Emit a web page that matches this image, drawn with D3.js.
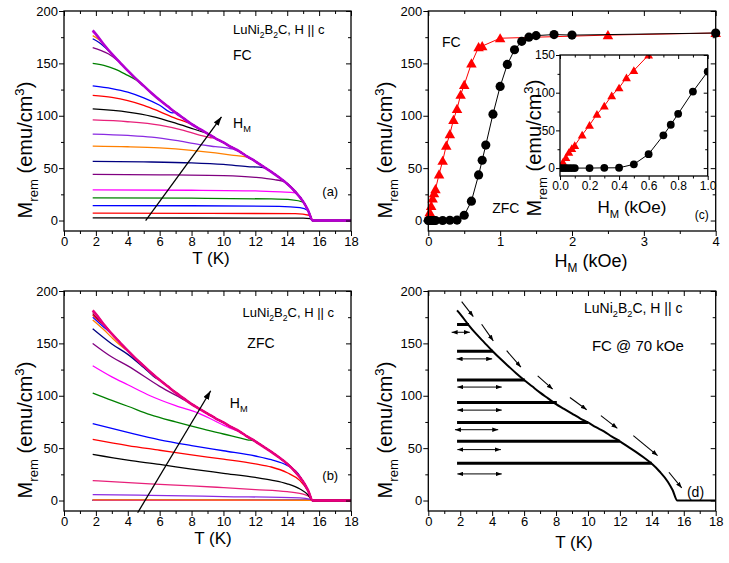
<!DOCTYPE html>
<html>
<head>
<meta charset="utf-8">
<script src="https://cdn.jsdelivr.net/npm/d3@7/dist/d3.min.js"></script>
<style>
  body { margin: 0; background: #fff; }
  svg text { font-family: "Liberation Sans", Arial, Helvetica, sans-serif; fill: #000; white-space: pre; }
</style>
</head>
<body>
<svg id="fig" width="729" height="563"></svg>
<script>
// LuNi2B2C remanent magnetization: (a) FC and (b) ZFC M_rem(T) families,
// (c) M_rem vs magnetizing field H_M at 1.8 K, (d) sketch of the FC protocol.

// ---- data ----
// Saturated remanence curve (top envelope), [T (K), M (emu/cm3)]
const TOP = [[1.8, 181.5], [2, 178], [2.5, 168], [3, 159], [3.5, 151], [4, 143], [4.5, 135.5],
  [5, 128.5], [5.5, 121.5], [6, 115], [6.5, 109], [7, 103], [7.5, 97.5], [8, 92], [8.5, 87.5],
  [9, 83], [9.5, 78.5], [10, 74.5], [10.5, 70], [11, 66], [11.5, 61], [12, 56.5], [12.5, 51.5],
  [13, 46.5], [13.5, 41], [14, 35], [14.5, 27.5], [15, 18], [15.3, 10], [15.6, 0], [16, 0], [18, 0]];

// (a) FC curves: own points until they join the envelope
const FC_CURVES = [
  [[1.8, 2.5], [8, 2.4], [15, 2.2], [15.45, 1.9]],
  [[1.8, 7], [8, 6.9], [14.5, 6.6], [15.45, 4.8]],
  [[1.8, 14.3], [8, 14.1], [13.5, 13.5], [14.8, 12.3], [15.3, 9.5]],
  [[1.8, 21.6], [8, 21.3], [13, 20.6], [14.3, 19.8], [15, 17.5]],
  [[1.8, 29.2], [8, 28.9], [12, 28.3], [13.6, 27.3], [14.5, 26.5]],
  [[1.8, 44], [6, 43.6], [10, 42.8], [12, 41.2], [13.2, 39], [13.7, 37.5]],
  [[1.8, 56.5], [5, 56], [8, 55], [10, 53.5], [11.5, 51.5], [12.5, 50.5]],
  [[1.8, 71], [4, 70.4], [6, 69.3], [8, 67], [9.5, 64.5], [10.5, 62.5], [11.5, 60.5]],
  [[1.8, 82.5], [4, 81.2], [5.5, 79.6], [7, 76.5], [8.5, 72.5], [9.5, 70.5], [10.5, 68.5]],
  [[1.8, 96], [4, 94.3], [6, 91], [7.5, 86], [8.5, 81.5], [9.2, 79]],
  [[1.8, 106.5], [4, 103.5], [5.5, 99.5], [7, 93], [8, 88], [8.7, 84.5]],
  [[1.8, 119.5], [3, 117.5], [4, 114.5], [5, 110], [6, 104], [7, 97.5], [7.6, 94.5]],
  [[1.8, 128.6], [3, 126], [4, 122.5], [5, 117], [6, 110], [6.8, 102.8]],
  [[1.8, 150], [2.5, 148], [3.2, 144.5], [4, 138.5], [4.5, 134.5]],
  [[1.8, 165], [2.3, 162.5], [2.8, 159], [3.3, 153.5]],
  [[1.8, 173.5], [2.2, 170], [2.6, 165]],
  [[1.8, 176.5], [2.2, 172.5], [2.5, 167.5]],
  [[1.8, 180], [2, 177.5]],
  [[1.8, 181.5]]
];
const FC_COLORS = ['#000000', '#ff0000', '#0000ff', '#008000', '#ff00ff', '#800080', '#000080',
  '#ff8000', '#8a2be2', '#e8207a', '#000000', '#ff0000', '#0000ff', '#008000', '#800080',
  '#0000c8', '#ff8000', '#ff00ff', '#b400d2'];

// (b) ZFC curves
const ZFC_CURVES = [
  [[1.8, 0.2], [15.5, 0.1]],
  [[1.8, 0.2], [15.5, 0.1]],
  [[1.8, 0.3], [15.5, 0.1]],
  [[1.8, 0.3], [15.5, 0.1]],
  [[1.8, 0.4], [15.5, 0.1]],
  [[1.8, 0.6], [10, 0.5], [15.5, 0.2]],
  [[1.8, 5.7], [5.4, 5], [10, 3.8], [14.8, 2.5], [15.45, 1.2]],
  [[1.8, 19], [5.4, 15.9], [8, 14], [10, 12.3], [12, 10.5], [14, 8.5], [15, 6], [15.45, 3]],
  [[1.8, 44], [4, 38.5], [6, 34.5], [8, 30], [10, 26], [12, 22], [13, 19.5], [14, 16], [14.8, 11], [15.3, 5.5]],
  [[1.8, 58.4], [4, 52.5], [6, 48], [8, 43.5], [10, 39.5], [12, 35], [13, 32], [14, 26.5], [14.8, 19], [15.3, 9]],
  [[1.8, 73.3], [4, 65], [6, 58], [8, 52.5], [10, 47.5], [12, 42.5], [13, 39], [14, 33.5], [14.7, 25.5], [15.2, 12]],
  [[1.8, 102.5], [3, 95.5], [4, 90], [5.4, 82], [7, 75], [8.5, 69], [10, 63.5], [11.5, 58]],
  [[1.8, 128.6], [3, 118], [4, 110.5], [5.4, 100], [7, 90.5], [8.5, 83], [10, 72], [10.5, 68.5]],
  [[1.8, 150], [3, 137], [4, 128.5], [6, 109], [7.6, 95.5]],
  [[1.8, 164], [3, 149.5], [4, 139.5], [5, 127], [5.8, 116.5]],
  [[1.8, 172.4], [2.5, 163], [3, 155.5], [3.8, 145]],
  [[1.8, 175], [2.5, 165.5], [2.8, 161.5]],
  [[1.8, 177], [2.3, 170]],
  [[1.8, 178.5], [2.2, 172]],
  [[1.8, 180]],
  [[1.8, 181.5]]
];
const ZFC_COLORS = ['#000000', '#ff0000', '#0000ff', '#008000', '#ff00ff', '#ff8000', '#8a2be2',
  '#e8207a', '#000000', '#ff0000', '#0000ff', '#008000', '#ff00ff', '#800080', '#000080',
  '#ff8000', '#0000ff', '#ff0000', '#a0002a', '#c00060', '#e8007e'];

// (c) M_rem vs H_M
const FC_H = [0.01, 0.02, 0.04, 0.06, 0.08, 0.1, 0.15, 0.2, 0.25, 0.3, 0.35, 0.4, 0.45, 0.5,
  0.6, 0.7, 0.75, 1.0, 2.5, 4.0];
const FC_M = [4, 8, 14, 21, 26, 30, 44, 57, 71.5, 82.5, 96, 106.5, 120, 129.5,
  150, 165.5, 166.5, 174, 177, 179];
const ZFC_H = [0, 0.02, 0.04, 0.06, 0.08, 0.1, 0.2, 0.3, 0.4, 0.5, 0.6, 0.7, 0.75, 0.8, 0.9,
  1.0, 1.1, 1.2, 1.3, 1.4, 1.5, 1.75, 2.0, 4.0];
const ZFC_M = [0, 0, 0, 0, 0, 0, 0, 0.3, 0.4, 5, 18.5, 43.5, 57.5, 72, 101.5,
  128, 149, 163, 171, 175, 176.5, 177.5, 177, 179];

// (d) remanent plateaus [T end, M], double arrows [T from, T to, M], dashed path arrows
const D_PLATEAUS = [[2.55, 168], [4.05, 142.5], [6.05, 115], [8.05, 93.5], [10, 74.5], [12, 56.5], [14, 35.5]];
const D_ARROWS = [[1.46, 2.6, 160.6], [1.77, 4.0, 135.2], [1.82, 4.6, 108.3], [1.82, 4.6, 86.3],
  [1.67, 4.38, 67.6], [1.82, 4.55, 48.6], [1.82, 4.6, 25.4]];
const D_DASHES = [[2.09, 189.8, 2.82, 175.6], [3.34, 168.3, 4.07, 152.4], [4.91, 143, 5.8, 127.3],
  [6.85, 119, 7.79, 106.3], [8.87, 98.4, 9.92, 86.7], [10.81, 81, 11.84, 68.9],
  [12.84, 61.9, 14.36, 42.9], [15.07, 27, 15.87, 12.1]];

// ticks
const T_MAJOR = [0, 2, 4, 6, 8, 10, 12, 14, 16, 18];
const M_MAJOR = [0, 50, 100, 150, 200];
const H_MAJOR = [0, 1, 2, 3, 4];
const IN_H_MAJOR = [0, 0.2, 0.4, 0.6, 0.8, 1.0];
const IN_M_MAJOR = [0, 50, 100, 150];

// ---- drawing ----
const svg = d3.select('#fig');
const defs = svg.append('defs');

function marker(id, w, h) {
  defs.append('marker').attr('id', id)
    .attr('viewBox', `0 0 ${w} ${h}`).attr('refX', w).attr('refY', h / 2)
    .attr('markerWidth', w).attr('markerHeight', h)
    .attr('markerUnits', 'userSpaceOnUse').attr('orient', 'auto-start-reverse')
    .append('path').attr('d', `M0,0L${w},${h / 2}L0,${h}Z`).attr('fill', '#000');
}
marker('headBig', 9, 6);
marker('headSmall', 6, 4.5);

// text with sub/superscripts; parts = [[str, 'sub'|'sup'|null], ...]
function rich(sel, parts, size) {
  let shift = 0;
  parts.forEach(([t, k]) => {
    const target = k === 'sub' ? size * 0.3 : k === 'sup' ? -size * 0.42 : 0;
    sel.append('tspan').attr('dy', target - shift).attr('font-size', k ? size * 0.66 : size).text(t);
    shift = target;
  });
  return sel;
}
const MREM = [['M'], ['rem', 'sub'], [' (emu/cm'], ['3', 'sup'], [')']];
const HM = [['H'], ['M', 'sub'], [' (kOe)']];

function makePanel(o) {
  const x = d3.scaleLinear().domain(o.xDom).range([o.x0, o.x1]);
  const y = d3.scaleLinear().domain(o.yDom).range([o.y1, o.y0]);
  const g = svg.append('g');
  const id = 'clip' + Math.round(o.x0) + '_' + Math.round(o.y0);
  defs.append('clipPath').attr('id', id).append('rect')
    .attr('x', o.x0).attr('y', o.y0).attr('width', o.x1 - o.x0).attr('height', o.y1 - o.y0);
  if (o.bg) g.append('rect').attr('x', o.x0).attr('y', o.y0).attr('width', o.x1 - o.x0)
    .attr('height', o.y1 - o.y0).attr('fill', '#fff');
  const plot = g.append('g').attr('clip-path', `url(#${id})`);
  const over = g.append('g');
  return { x, y, g, plot, over, o };
}

function drawAxes(p) {
  const { x, y, g, o } = p;
  const fs = o.fs, ml = o.major, mn = o.minor;
  const style = (s) => {
    s.select('.domain').remove();
    s.attr('font-family', null).attr('font-size', null);
    s.selectAll('line').attr('stroke', '#000').attr('stroke-width', 1);
    s.selectAll('text').attr('font-size', fs).attr('fill', '#000');
  };
  const none = () => '';
  const ax = g.append('g');
  ax.append('g').attr('transform', `translate(0,${o.y1})`)
    .call(d3.axisBottom(x).tickValues(o.xMaj).tickFormat(o.xFmt).tickSize(ml).tickPadding(o.pad)).call(style);
  ax.append('g').attr('transform', `translate(0,${o.y1})`)
    .call(d3.axisBottom(x).tickValues(o.xMin).tickFormat(none).tickSize(mn)).call(style);
  ax.append('g').attr('transform', `translate(${o.x0},0)`)
    .call(d3.axisLeft(y).tickValues(o.yMaj).tickFormat(o.yFmt).tickSize(ml).tickPadding(o.pad)).call(style);
  ax.append('g').attr('transform', `translate(${o.x0},0)`)
    .call(d3.axisLeft(y).tickValues(o.yMin).tickFormat(none).tickSize(mn)).call(style);
  if (o.mirror) {
    ax.append('g').attr('transform', `translate(0,${o.y0})`)
      .call(d3.axisTop(x).tickValues(o.xMaj).tickFormat(none).tickSize(-ml)).call(style);
    ax.append('g').attr('transform', `translate(0,${o.y0})`)
      .call(d3.axisTop(x).tickValues(o.xMin).tickFormat(none).tickSize(-mn)).call(style);
    ax.append('g').attr('transform', `translate(${o.x1},0)`)
      .call(d3.axisRight(y).tickValues(o.yMaj).tickFormat(none).tickSize(-ml)).call(style);
    ax.append('g').attr('transform', `translate(${o.x1},0)`)
      .call(d3.axisRight(y).tickValues(o.yMin).tickFormat(none).tickSize(-mn)).call(style);
  }
  g.append('rect').attr('x', o.x0).attr('y', o.y0).attr('width', o.x1 - o.x0).attr('height', o.y1 - o.y0)
    .attr('fill', 'none').attr('stroke', '#000').attr('stroke-width', 1.3);
}

const T_MINOR = d3.range(1, 18, 2);
const M_MINOR = [25, 75, 125, 175];
const tBox = (y0, y1) => ({
  x0: 64, x1: 351, y0, y1, xDom: [0, 18], yDom: [-10, 200],
  xMaj: T_MAJOR, xMin: T_MINOR, yMaj: M_MAJOR, yMin: M_MINOR,
  xFmt: d3.format('d'), yFmt: d3.format('d'), fs: 13, major: 5, minor: 3, pad: 1, mirror: true
});

const line = (x, y) => d3.line().x((d) => x(d[0])).y((d) => y(d[1])).curve(d3.curveMonotoneX);
const withTop = (pts) => pts.concat(TOP.filter((p) => p[0] > pts[pts.length - 1][0]));

function curveFamily(p, curves, colors) {
  const gen = line(p.x, p.y);
  p.plot.selectAll(null).data(curves).join('path')
    .attr('d', (d) => gen(withTop(d)))
    .attr('fill', 'none')
    .attr('stroke', (d, i) => colors[i])
    .attr('stroke-width', (d, i) => (i === curves.length - 1 ? 2.6 : 1.3))
    .attr('stroke-linejoin', 'round');
}

function label(p, tx, ty, parts, size, color) {
  const t = p.over.append('text').attr('x', p.x(tx)).attr('y', p.y(ty)).attr('fill', color || '#000');
  rich(t, parts, size);
  return t;
}

function axisTitles(p, xParts, xSize, xc, xb, yc, yb, ySize) {
  rich(p.over.append('text').attr('text-anchor', 'middle').attr('x', xc).attr('y', xb), xParts, xSize);
  rich(p.over.append('text').attr('text-anchor', 'middle')
    .attr('transform', `translate(${yb},${yc}) rotate(-90)`), MREM, ySize);
}

// ---- panel (a) FC ----
const pa = makePanel(tBox(11, 231));
curveFamily(pa, FC_CURVES, FC_COLORS);
drawAxes(pa);
pa.over.append('line')
  .attr('x1', pa.x(5.12)).attr('y1', pa.y(0)).attr('x2', pa.x(9.88)).attr('y2', pa.y(99))
  .attr('stroke', '#000').attr('stroke-width', 1.3).attr('marker-end', 'url(#headBig)');
label(pa, 10.6, 178, [['LuNi'], ['2', 'sub'], ['B'], ['2', 'sub'], ['C, H || c']], 13);
label(pa, 10.6, 153, [['FC']], 14);
label(pa, 10.6, 88.6, [['H'], ['M', 'sub']], 14);
label(pa, 16.2, 23, [['(a)']], 13);
axisTitles(pa, [['T (K)']], 17, 211, 264, 150, 32, 20);

// ---- panel (b) ZFC ----
const pb = makePanel(tBox(291, 511));
curveFamily(pb, ZFC_CURVES, ZFC_COLORS);
drawAxes(pb);
pb.over.append('line')
  .attr('x1', pb.x(4.62)).attr('y1', pb.y(-11.7)).attr('x2', pb.x(9.2)).attr('y2', pb.y(104.8))
  .attr('stroke', '#000').attr('stroke-width', 1.3).attr('marker-end', 'url(#headBig)');
label(pb, 11.2, 175, [['LuNi'], ['2', 'sub'], ['B'], ['2', 'sub'], ['C, H || c']], 13);
label(pb, 11.5, 145.7, [['ZFC']], 14);
label(pb, 10.4, 88.6, [['H'], ['M', 'sub']], 14);
label(pb, 16.2, 20, [['(b)']], 13);
axisTitles(pb, [['T (K)']], 17, 213, 544, 430, 32, 20);

// ---- panel (c) M_rem vs H_M ----
const pc = makePanel({
  x0: 428.3, x1: 715.7, y0: 11, y1: 231, xDom: [0, 4], yDom: [-10, 200],
  xMaj: H_MAJOR, xMin: [0.5, 1.5, 2.5, 3.5], yMaj: M_MAJOR, yMin: M_MINOR,
  xFmt: d3.format('d'), yFmt: d3.format('d'), fs: 13, major: 5, minor: 3, pad: 1, mirror: true
});
const fcPts = FC_H.map((h, i) => [h, FC_M[i]]);
const zfcPts = ZFC_H.map((h, i) => [h, ZFC_M[i]]);

function hSeries(p, layer, pts, color, sym, size) {
  const gen = d3.line().x((d) => p.x(d[0])).y((d) => p.y(d[1]));
  layer.append('path').attr('d', gen(pts)).attr('fill', 'none').attr('stroke', color).attr('stroke-width', 1);
  layer.selectAll(null).data(pts).join('path')
    .attr('transform', (d) => `translate(${p.x(d[0])},${p.y(d[1]) + (sym === d3.symbolTriangle ? 1 : 0)})`)
    .attr('d', d3.symbol(sym, size)).attr('fill', color);
}
hSeries(pc, pc.over, fcPts, '#ff0000', d3.symbolTriangle, 48);
hSeries(pc, pc.over, zfcPts, '#000000', d3.symbolCircle, 66);
drawAxes(pc);
label(pc, 0.19, 165.7, [['FC']], 14, '#ff0000');
label(pc, 0.89, 7.6, [['ZFC']], 14);
axisTitles(pc, HM, 18, 591, 267, 150, 392, 20);

// inset of (c)
const pi = makePanel({
  x0: 560, x1: 707.7, y0: 55, y1: 176, xDom: [0, 1], yDom: [-10.5, 150],
  xMaj: IN_H_MAJOR, xMin: [0.1, 0.3, 0.5, 0.7, 0.9], yMaj: IN_M_MAJOR, yMin: [25, 75, 125],
  xFmt: d3.format('.1f'), yFmt: d3.format('d'), fs: 12, major: 4, minor: 2.5, pad: 1, mirror: true, bg: true
});
hSeries(pi, pi.plot, fcPts.filter((d) => d[0] <= 1), '#ff0000', d3.symbolTriangle, 34);
hSeries(pi, pi.plot, zfcPts.filter((d) => d[0] <= 1.1), '#000000', d3.symbolCircle, 48);
drawAxes(pi);
rich(pi.over.append('text').attr('text-anchor', 'middle').attr('x', 632).attr('y', 213), HM, 17);
rich(pi.over.append('text').attr('text-anchor', 'middle')
  .attr('transform', 'translate(541,148) rotate(-90)'), MREM, 20);
pi.over.append('text').attr('x', pc.x(3.71)).attr('y', pc.y(1.9)).attr('font-size', 12).text('(c)');

// ---- panel (d) FC protocol sketch ----
const pd = makePanel({
  x0: 428.3, x1: 715.7, y0: 291, y1: 511, xDom: [0, 18], yDom: [-10, 200],
  xMaj: T_MAJOR, xMin: T_MINOR, yMaj: M_MAJOR, yMin: M_MINOR,
  xFmt: d3.format('d'), yFmt: d3.format('d'), fs: 13, major: 5, minor: 3, pad: 1, mirror: true
});
pd.plot.selectAll(null).data(D_PLATEAUS).join('line')
  .attr('x1', pd.x(1.8)).attr('x2', (d) => pd.x(d[0]))
  .attr('y1', (d) => pd.y(d[1])).attr('y2', (d) => pd.y(d[1]))
  .attr('stroke', '#000').attr('stroke-width', 3);
pd.plot.append('path').attr('d', line(pd.x, pd.y)(TOP))
  .attr('fill', 'none').attr('stroke', '#000').attr('stroke-width', 2);
pd.over.selectAll(null).data(D_ARROWS).join('line')
  .attr('x1', (d) => pd.x(d[0])).attr('x2', (d) => pd.x(d[1]))
  .attr('y1', (d) => pd.y(d[2])).attr('y2', (d) => pd.y(d[2]))
  .attr('stroke', '#000').attr('stroke-width', 1)
  .attr('marker-start', 'url(#headSmall)').attr('marker-end', 'url(#headSmall)');
pd.over.selectAll(null).data(D_DASHES).join('line')
  .attr('x1', (d) => pd.x(d[0])).attr('y1', (d) => pd.y(d[1]))
  .attr('x2', (d) => pd.x(d[2])).attr('y2', (d) => pd.y(d[3]))
  .attr('stroke', '#000').attr('stroke-width', 1.1).attr('marker-end', 'url(#headSmall)');
drawAxes(pd);
label(pd, 9.75, 179, [['LuNi'], ['2', 'sub'], ['B'], ['2', 'sub'], ['C, H || c']], 14);
label(pd, 10.25, 142.9, [['FC @ 70 kOe']], 15);
label(pd, 16.2, 2.9, [['(d)']], 14);
axisTitles(pd, [['T (K)']], 17, 574, 548, 430, 392, 20);
</script>
</body>
</html>
